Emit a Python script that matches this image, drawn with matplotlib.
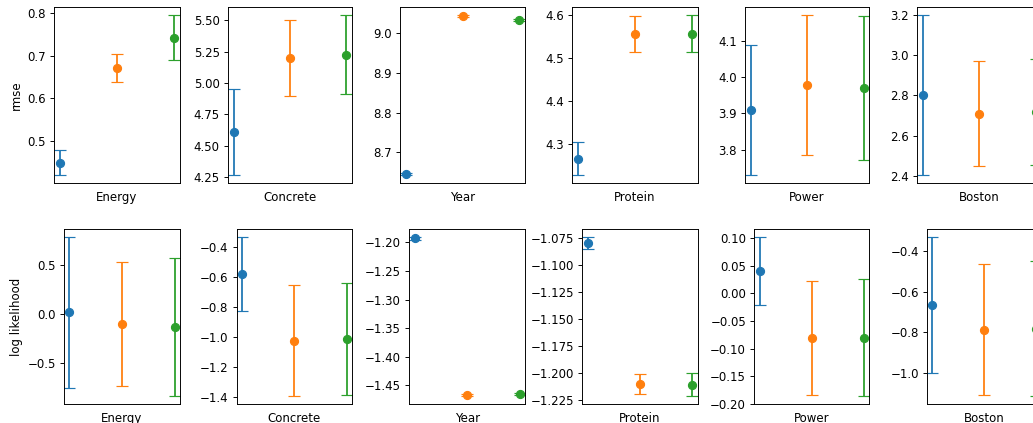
import matplotlib
matplotlib.use('Agg')
import matplotlib.pyplot as plt

datasets = ['Energy', 'Concrete', 'Year', 'Protein', 'Power', 'Boston']
methodColors = ['tab:blue', 'tab:orange', 'tab:green']

# rmse per dataset, one value per method
rmseMean = [
    [0.450, 0.671, 0.742],
    [4.610, 5.200, 5.227],
    [8.645, 9.043, 9.032],
    [4.267, 4.556, 4.557],
    [3.910, 3.978, 3.970],
    [2.802, 2.709, 2.719],
]
rmseErr = [
    [0.029, 0.033, 0.053],
    [0.344, 0.303, 0.316],
    [0.002, 0.002, 0.002],
    [0.038, 0.042, 0.043],
    [0.180, 0.194, 0.198],
    [0.397, 0.261, 0.264],
]

# log likelihood per dataset, one value per method
llMean = [
    [0.016, -0.097, -0.135],
    [-0.584, -1.025, -1.014],
    [-1.193, -1.467, -1.465],
    [-1.0796, -1.210, -1.211],
    [0.040, -0.081, -0.0806],
    [-0.666, -0.7875, -0.783],
]
llErr = [
    [0.760, 0.627, 0.697],
    [0.246, 0.370, 0.373],
    [0.002, 0.002, 0.002],
    [0.0053, 0.0094, 0.0106],
    [0.0616, 0.104, 0.106],
    [0.334, 0.3215, 0.334],
]

W, H = 1033, 423
DPI = 85
fig = plt.figure(figsize=(W / DPI, H / DPI), dpi=DPI)

# pixel boxes of the axes (the right-most column runs off the canvas)
rights = [180, 352, 525, 697.7, 869.3, 1041.5]
topLefts = [54, 228, 400, 572.3, 745, 917]
bottomLefts = [64, 236.7, 409.3, 582.3, 754.3, 927.3]
rows = [(7, 183, topLefts, rmseMean, rmseErr, 'rmse'),
        (229.3, 404.3, bottomLefts, llMean, llErr, 'log likelihood')]

for top, bottom, lefts, means, errs, ylabel in rows:
    for i, name in enumerate(datasets):
        ax = fig.add_axes([lefts[i] / W, 1 - bottom / H,
                           (rights[i] - lefts[i]) / W, (bottom - top) / H])
        for j, color in enumerate(methodColors):
            ax.errorbar(j, means[i][j], yerr=errs[i][j], fmt='o',
                        color=color, capsize=5.4, markersize=6.8)
        ax.set_xticks([])
        ax.set_xlabel(name, labelpad=6.5)
        if i == 0:
            ax.set_ylabel(ylabel)

fig.savefig('out.png', dpi=DPI)
